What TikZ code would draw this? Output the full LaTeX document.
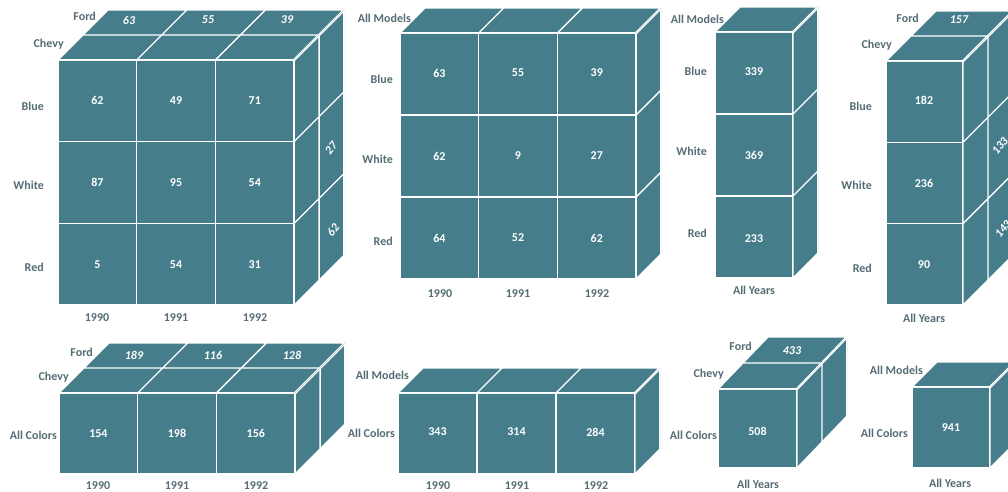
\documentclass[tikz,border=0pt]{standalone}
\usepackage{fontspec}
\setmainfont{Carlito}
\definecolor{cubeteal}{RGB}{69,125,138}
\definecolor{labgray}{RGB}{84,108,116}
\begin{document}
\begin{tikzpicture}[x=1pt,y=-1pt,face/.style={fill=cubeteal},edge/.style={draw=white,line width=1.3pt,step=1pt},lab/.style={font=\fontsize{12}{14}\selectfont\bfseries,text=labgray,inner sep=0pt},num/.style={font=\fontsize{12}{14}\selectfont\bfseries,text=white,inner sep=0pt},topnum/.style={num,font=\fontsize{12}{14}\selectfont\bfseries\itshape}]
\useasboundingbox (0,0) rectangle (1008,491);
\clip (0,0) rectangle (1008,491);
\begin{scope}[cm={78.7,0,0,81.7,(58,60)}]
\fill[face] (0,0) rectangle (3,3); \draw[edge] (0,3) grid (3,0);
\end{scope}
\begin{scope}[cm={78.7,0,-25,-25,(58,60)}]
\fill[face] (0,0) rectangle (3,2); \draw[edge] (0,2) grid (3,0);
\end{scope}
\begin{scope}[cm={25,25,0,81.7,(294.1,60)}]
\fill[face] (0,0) rectangle (2,3); \draw[edge] (0,3) grid (2,0);
\end{scope}
\node[lab,anchor=east] (c1ford) at (96,16) {Ford};
\node[lab,anchor=east] (c1chevy) at (64,44) {Chevy};
\node[lab,anchor=east] (c1blue) at (44,106) {Blue};
\node[lab,anchor=east] (c1white) at (44,185) {White};
\node[lab,anchor=east] (c1red) at (44,267) {Red};
\node[lab] (c1y90) at (97,318) {1990};
\node[lab] (c1y91) at (176,318) {1991};
\node[lab] (c1y92) at (255,318) {1992};
\node[num] (c1a) at (97.4,100.9) {62};
\node[num] (c1b) at (176,100.9) {49};
\node[num] (c1c) at (254.8,100.9) {71};
\node[num] (c1d) at (97.4,182.6) {87};
\node[num] (c1e) at (176,182.6) {95};
\node[num] (c1f) at (254.8,182.6) {54};
\node[num] (c1g) at (97.4,264.3) {5};
\node[num] (c1h) at (176,264.3) {54};
\node[num] (c1i) at (254.8,264.3) {31};
\node[topnum] (c1top90) at (129,20) {63};
\node[topnum] (c1top91) at (208,20) {55};
\node[topnum] (c1top92) at (287,20) {39};
\node[topnum,rotate=50] (c1sidew) at (331,148) {27};
\node[topnum,rotate=50] (c1sider) at (333,230) {62};
\begin{scope}[cm={78.7,0,0,82,(400,33)}]
\fill[face] (0,0) rectangle (3,3); \draw[edge] (0,3) grid (3,0);
\end{scope}
\begin{scope}[cm={78.7,0,-25,-25,(400,33)}]
\fill[face] (0,0) rectangle (3,1); \draw[edge] (0,1) grid (3,0);
\end{scope}
\begin{scope}[cm={25,25,0,82,(636.1,33)}]
\fill[face] (0,0) rectangle (1,3); \draw[edge] (0,3) grid (1,0);
\end{scope}
\node[lab,anchor=east] (c2models) at (411,18) {All Models};
\node[lab,anchor=east] (c2blue) at (393,79) {Blue};
\node[lab,anchor=east] (c2white) at (393,159) {White};
\node[lab,anchor=east] (c2red) at (393,241) {Red};
\node[lab] (c2y90) at (440,294) {1990};
\node[lab] (c2y91) at (518,294) {1991};
\node[lab] (c2y92) at (597,294) {1992};
\node[num] (c2a) at (439.4,73) {63};
\node[num] (c2b) at (518,73) {55};
\node[num] (c2c) at (596.8,73) {39};
\node[num] (c2d) at (439.4,156) {62};
\node[num] (c2e) at (518,156) {9};
\node[num] (c2f) at (596.8,156) {27};
\node[num] (c2g) at (439.4,238) {64};
\node[num] (c2h) at (518,238) {52};
\node[num] (c2i) at (596.8,238) {62};
\begin{scope}[cm={78,0,0,82,(715,32)}]
\fill[face] (0,0) rectangle (1,3); \draw[edge] (0,3) grid (1,0);
\end{scope}
\begin{scope}[cm={78,0,-25,-25,(715,32)}]
\fill[face] (0,0) rectangle (1,1); \draw[edge] (0,1) grid (1,0);
\end{scope}
\begin{scope}[cm={25,25,0,82,(793,32)}]
\fill[face] (0,0) rectangle (1,3); \draw[edge] (0,3) grid (1,0);
\end{scope}
\node[lab,anchor=east] (c3models) at (724,19) {All Models};
\node[lab,anchor=east] (c3blue) at (707,71) {Blue};
\node[lab,anchor=east] (c3white) at (707,151) {White};
\node[lab,anchor=east] (c3red) at (707,233) {Red};
\node[lab] (c3years) at (754,290) {All Years};
\node[num] (c3a) at (754,72) {339};
\node[num] (c3b) at (754,155) {369};
\node[num] (c3c) at (754,239) {233};
\begin{scope}[cm={77,0,0,81.3,(886,61)}]
\fill[face] (0,0) rectangle (1,3); \draw[edge] (0,3) grid (1,0);
\end{scope}
\begin{scope}[cm={77,0,-25,-25,(886,61)}]
\fill[face] (0,0) rectangle (1,2); \draw[edge] (0,2) grid (1,0);
\end{scope}
\begin{scope}[cm={25,25,0,81.3,(963,61)}]
\fill[face] (0,0) rectangle (2,3); \draw[edge] (0,3) grid (2,0);
\end{scope}
\node[lab,anchor=east] (c4ford) at (919,18) {Ford};
\node[lab,anchor=east] (c4chevy) at (892,45) {Chevy};
\node[lab,anchor=east] (c4blue) at (872,106) {Blue};
\node[lab,anchor=east] (c4white) at (872,185) {White};
\node[lab,anchor=east] (c4red) at (872,268) {Red};
\node[lab] (c4years) at (924,318) {All Years};
\node[num] (c4a) at (924,100) {182};
\node[num] (c4b) at (924,183) {236};
\node[num] (c4c) at (924,265) {90};
\node[topnum] (c4top) at (959,20) {157};
\node[topnum,rotate=50] (c4sidew) at (1000,146) {133};
\node[topnum,rotate=50] (c4sider) at (1003,229) {143};
\begin{scope}[cm={78.7,0,0,81,(59,393)}]
\fill[face] (0,0) rectangle (3,1); \draw[edge] (0,1) grid (3,0);
\end{scope}
\begin{scope}[cm={78.7,0,-25,-25,(59,393)}]
\fill[face] (0,0) rectangle (3,2); \draw[edge] (0,2) grid (3,0);
\end{scope}
\begin{scope}[cm={25,25,0,81,(295.1,393)}]
\fill[face] (0,0) rectangle (2,1); \draw[edge] (0,1) grid (2,0);
\end{scope}
\node[lab,anchor=east] (c5ford) at (93,352) {Ford};
\node[lab,anchor=east] (c5chevy) at (69,377) {Chevy};
\node[lab,anchor=east] (c5colors) at (57,435) {All Colors};
\node[lab] (c5y90) at (98,486) {1990};
\node[lab] (c5y91) at (177,486) {1991};
\node[lab] (c5y92) at (256,486) {1992};
\node[num] (c5a) at (98.4,433.5) {154};
\node[num] (c5b) at (177,433.5) {198};
\node[num] (c5c) at (255.8,433.5) {156};
\node[topnum] (c5top90) at (134,355) {189};
\node[topnum] (c5top91) at (213,355) {116};
\node[topnum] (c5top92) at (292,355) {128};
\begin{scope}[cm={79,0,0,81,(398,393)}]
\fill[face] (0,0) rectangle (3,1); \draw[edge] (0,1) grid (3,0);
\end{scope}
\begin{scope}[cm={79,0,-25,-25,(398,393)}]
\fill[face] (0,0) rectangle (3,1); \draw[edge] (0,1) grid (3,0);
\end{scope}
\begin{scope}[cm={25,25,0,81,(635,393)}]
\fill[face] (0,0) rectangle (1,1); \draw[edge] (0,1) grid (1,0);
\end{scope}
\node[lab,anchor=east] (c6models) at (409,375) {All Models};
\node[lab,anchor=east] (c6colors) at (395,433) {All Colors};
\node[lab] (c6y90) at (438,486) {1990};
\node[lab] (c6y91) at (517,486) {1991};
\node[lab] (c6y92) at (596,486) {1992};
\node[num] (c6a) at (437.5,432) {343};
\node[num] (c6b) at (516.5,432) {314};
\node[num] (c6c) at (595.5,432) {284};
\begin{scope}[cm={79,0,0,79,(718,389)}]
\fill[face] (0,0) rectangle (1,1); \draw[edge] (0,1) grid (1,0);
\end{scope}
\begin{scope}[cm={79,0,-25,-26,(718,389)}]
\fill[face] (0,0) rectangle (1,2); \draw[edge] (0,2) grid (1,0);
\end{scope}
\begin{scope}[cm={25,26,0,79,(797,389)}]
\fill[face] (0,0) rectangle (2,1); \draw[edge] (0,1) grid (2,0);
\end{scope}
\node[lab,anchor=east] (c7ford) at (752,346) {Ford};
\node[lab,anchor=east] (c7chevy) at (724,374) {Chevy};
\node[lab,anchor=east] (c7colors) at (717,435) {All Colors};
\node[lab] (c7years) at (758,484) {All Years};
\node[num] (c7a) at (757.5,431) {508};
\node[topnum] (c7top) at (792,351) {433};
\begin{scope}[cm={78,0,0,81,(912,387)}]
\fill[face] (0,0) rectangle (1,1); \draw[edge] (0,1) grid (1,0);
\end{scope}
\begin{scope}[cm={78,0,-25,-25,(912,387)}]
\fill[face] (0,0) rectangle (1,1); \draw[edge] (0,1) grid (1,0);
\end{scope}
\begin{scope}[cm={25,25,0,81,(990,387)}]
\fill[face] (0,0) rectangle (1,1); \draw[edge] (0,1) grid (1,0);
\end{scope}
\node[lab,anchor=east] (c8models) at (923,370) {All Models};
\node[lab,anchor=east] (c8colors) at (908,433) {All Colors};
\node[lab] (c8years) at (950,483) {All Years};
\node[num] (c8a) at (951,428) {941};
\end{tikzpicture}
\end{document}
